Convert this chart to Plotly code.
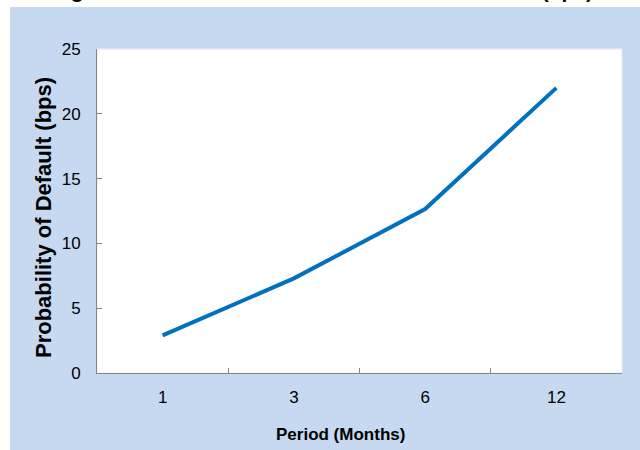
import plotly.graph_objects as go

periods = ["1", "3", "6", "12"]
pd_bps = [2.9, 7.3, 12.65, 22.0]
y_ticks = [0, 5, 10, 15, 20, 25]

W, H = 640, 450
L, R, T, B = 97, 18, 49, 77
pw, ph = W - L - R, H - T - B

def px(x):
    return (x - L) / pw

def py(y):
    return (H - B - y) / ph

fig = go.Figure()
fig.add_trace(go.Scatter(
    x=periods, y=pd_bps, mode="lines",
    line=dict(color="#0070C0", width=4),
    showlegend=False, hoverinfo="skip",
))

font = "Liberation Sans, Arial, sans-serif"
fig.update_layout(
    width=W, height=H,
    margin=dict(l=L, r=R, t=T, b=B),
    paper_bgcolor="#C6D9F1",
    plot_bgcolor="#FFFFFF",
    font=dict(family=font, size=17, color="#000000"),
    xaxis=dict(
        type="category", range=[-0.5, 3.5],
        showline=True, linecolor="#868686", linewidth=1,
        ticks="inside", ticklen=5, tickcolor="#868686", tickson="boundaries",
        showgrid=False, zeroline=False,
        ticklabelstandoff=9,
    ),
    yaxis=dict(
        range=[0, 25], tickvals=y_ticks,
        showline=True, linecolor="#868686", linewidth=1,
        ticks="inside", ticklen=5, tickcolor="#868686",
        showgrid=False, zeroline=False,
        ticklabelstandoff=12,
    ),
    shapes=[
        dict(type="rect", xref="paper", yref="paper",
             x0=px(-5), x1=px(10), y0=py(H + 5), y1=py(-5),
             fillcolor="#FFFFFF", line=dict(width=0), layer="below"),
        dict(type="rect", xref="paper", yref="paper",
             x0=px(-5), x1=px(W + 5), y0=py(7), y1=py(-5),
             fillcolor="#FFFFFF", line=dict(width=0), layer="below"),
        dict(type="rect", xref="paper", yref="paper",
             x0=0, x1=1, y0=0, y1=1,
             fillcolor="rgba(0,0,0,0)", line=dict(width=1, color="#E4ECF7"), layer="below"),
    ],
    annotations=[
        dict(text="<b>Figure 3: PD Term Structure of Financial Sectors (bps)</b>",
             xref="paper", yref="paper", x=px(322), y=py(4),
             xanchor="center", yanchor="bottom", showarrow=False,
             font=dict(size=21, color="#000000")),
        dict(text="<b>Probability of Default (bps)</b>",
             xref="paper", yref="paper", x=px(43), y=py(218),
             xanchor="center", yanchor="middle", showarrow=False, textangle=-90,
             font=dict(size=22, color="#000000")),
        dict(text="<b>Period (Months)</b>",
             xref="paper", yref="paper", x=px(340), y=py(434),
             xanchor="center", yanchor="middle", showarrow=False,
             font=dict(size=17, color="#000000")),
    ],
)

fig.write_html("out.html", config={"displayModeBar": False},
               post_script="document.body.style.margin='0';")
